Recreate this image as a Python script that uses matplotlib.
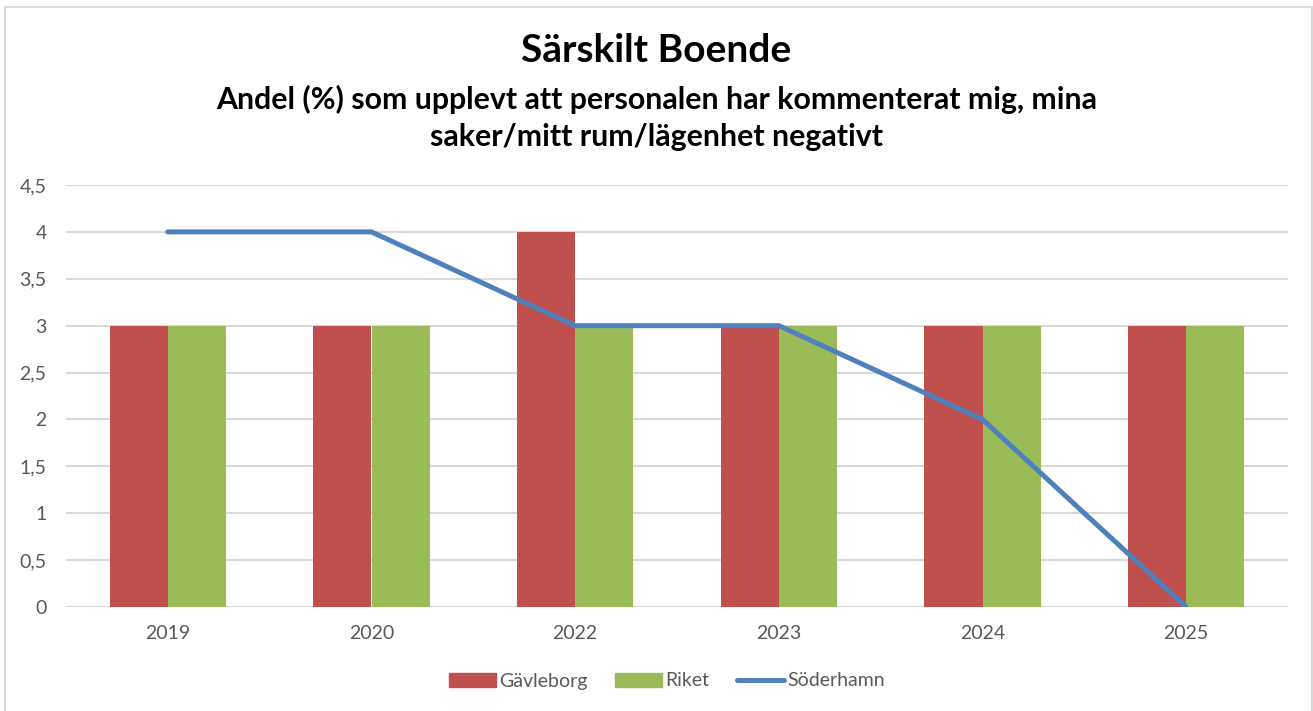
import matplotlib.pyplot as plt
import matplotlib.patches as mpatches
from matplotlib.lines import Line2D
from matplotlib.ticker import FuncFormatter, MultipleLocator
import numpy as np

plt.rcParams['font.family'] = ['Lato', 'DejaVu Sans']

# Data
years = ['2019', '2020', '2022', '2023', '2024', '2025']
gavleborg = [3, 3, 4, 3, 3, 3]
riket = [3, 3, 3, 3, 3, 3]
soderhamn = [4, 4, 3, 3, 2, 0]

red = '#C0504D'
green = '#9BBB59'
blue = '#4F81BD'
grid_col = '#D9D9D9'
text_col = '#595959'

fig = plt.figure(figsize=(13.13, 7.11), dpi=100)
ax = fig.add_axes([66 / 1313, 1 - 607 / 711, (1288 - 66) / 1313, (607 - 185) / 711])

x = np.arange(len(years))
w = 0.285
ax.bar(x - w / 2, gavleborg, width=w, color=red, zorder=2)
ax.bar(x + w / 2, riket, width=w, color=green, zorder=2)
ax.plot(x, soderhamn, color=blue, lw=3.6, solid_capstyle='round',
        solid_joinstyle='round', zorder=3)

ax.set_xlim(-0.5, len(years) - 0.5)
ax.set_ylim(0, 4.5)
ax.yaxis.set_major_locator(MultipleLocator(0.5))
ax.yaxis.set_major_formatter(FuncFormatter(lambda v, p: f'{v:g}'.replace('.', ',')))
ax.set_xticks(x)
ax.set_xticklabels(years)
ax.tick_params(axis='both', length=0, labelsize=14, colors=text_col)
ax.tick_params(axis='x', pad=13)
ax.tick_params(axis='y', pad=14)
ax.grid(axis='y', color=grid_col, lw=1.5, zorder=0)
for s in ax.spines.values():
    s.set_visible(False)

# Titles
fig.text(0.5, 1 - 51 / 711, 'Särskilt Boende', ha='center', va='center',
         fontsize=28, fontweight='bold', color='black')
fig.text(0.5, 1 - 118 / 711,
         'Andel (%) som upplevt att personalen har kommenterat mig, mina\nsaker/mitt rum/lägenhet negativt',
         ha='center', va='center', fontsize=21.8, fontweight='bold', color='black',
         linespacing=1.38)

# Legend
handles = [mpatches.Patch(color=red, label='Gävleborg'),
           mpatches.Patch(color=green, label='Riket'),
           Line2D([], [], color=blue, lw=3.6, solid_capstyle='round', label='Söderhamn')]
leg = fig.legend(handles=handles, loc='center', bbox_to_anchor=(0.508, 1 - 681 / 711),
                 ncol=3, frameon=False, fontsize=14, handlelength=2.4,
                 handleheight=0.7, handletextpad=0.2, columnspacing=1.4)
for t in leg.get_texts():
    t.set_color(text_col)

# outer border
fig.patches.append(mpatches.Rectangle((5 / 1313, -0.01), (1312 - 5) / 1313, 1 - 7 / 711 + 0.01,
                                      transform=fig.transFigure, fill=False,
                                      edgecolor='#D9D9D9', lw=1.5))

fig.savefig('out.png', dpi=100)
